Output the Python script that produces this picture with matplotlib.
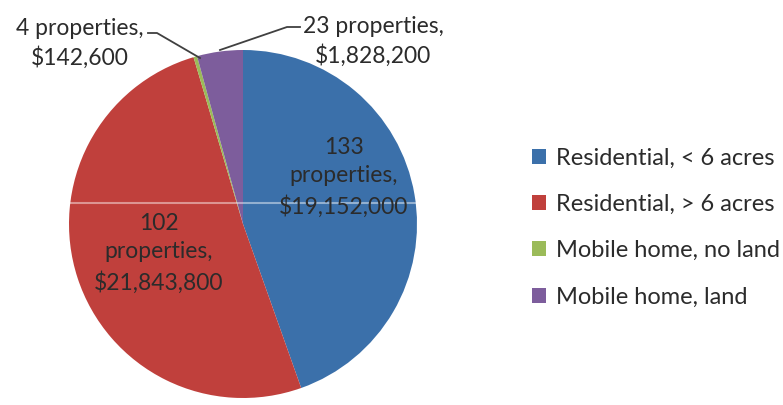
import matplotlib
matplotlib.use("Agg")
import matplotlib.pyplot as plt
import numpy as np

categories = ["Residential, < 6 acres", "Residential, > 6 acres",
              "Mobile home, no land", "Mobile home, land"]
counts = [133, 102, 4, 23]
values = [19152000, 21843800, 142600, 1828200]
colors = ["#3b70aa", "#c0403c", "#9bbb59", "#7d5d9c"]

plt.rcParams["font.family"] = ["Lato", "DejaVu Sans"]
text_color = "#2b2b2b"

W, H = 783, 405
fig = plt.figure(figsize=(W / 100, H / 100), dpi=100)

# pie centre and radius in pixels
cx, cy, r = 243, 224, 174
ax = fig.add_axes([(cx - r) / W, (H - cy - r) / H, 2 * r / W, 2 * r / H])

wedges, _ = ax.pie(values, colors=colors, startangle=90, counterclock=False,
                   radius=1.0, wedgeprops=dict(linewidth=0))
ax.set_xlim(-1, 1)
ax.set_ylim(-1, 1)
ax.set_aspect("equal")
ax.axis("off")


def px(x, y):
    return ((x - cx) / r, (cy - y) / r)


def label(i):
    return f"{counts[i]}\nproperties,\n${values[i]:,}"


def label_short(i):
    return f"{counts[i]} properties,\n${values[i]:,}"


fs = 16.5
ls = 1.45
ax.text(*px(344, 177), label(0), ha="center", va="center", fontsize=fs,
        color=text_color, linespacing=ls)
ax.text(*px(159, 253), label(1), ha="center", va="center", fontsize=fs,
        color=text_color, linespacing=ls)
ax.text(*px(80, 43), label_short(2), ha="center", va="center", fontsize=fs,
        color=text_color, linespacing=1.38, clip_on=False)
ax.text(*px(373, 41), label_short(3), ha="center", va="center", fontsize=fs,
        color=text_color, linespacing=1.38, clip_on=False)

# leader lines
for pts in ([(148, 33), (157, 33), (200, 58)], [(300, 27), (287, 27), (220, 50)]):
    xs, ys = zip(*[px(*p) for p in pts])
    ax.plot(xs, ys, color="#404040", lw=1.3, clip_on=False)

# faint scan line across the pie
yl = (cy - 203) / r
xl = np.sqrt(1 - yl ** 2)
ax.plot([-xl, xl], [yl, yl], color="white", lw=1.5, alpha=0.45)

fig.legend(wedges, categories, loc="center left",
           bbox_to_anchor=(532 / W, (H - 227.5) / H), frameon=False,
           fontsize=17, labelcolor=text_color, handlelength=0.6,
           handleheight=0.6, handletextpad=0.4, labelspacing=1.07,
           borderpad=0, borderaxespad=0)

fig.savefig("out.png", dpi=100)
